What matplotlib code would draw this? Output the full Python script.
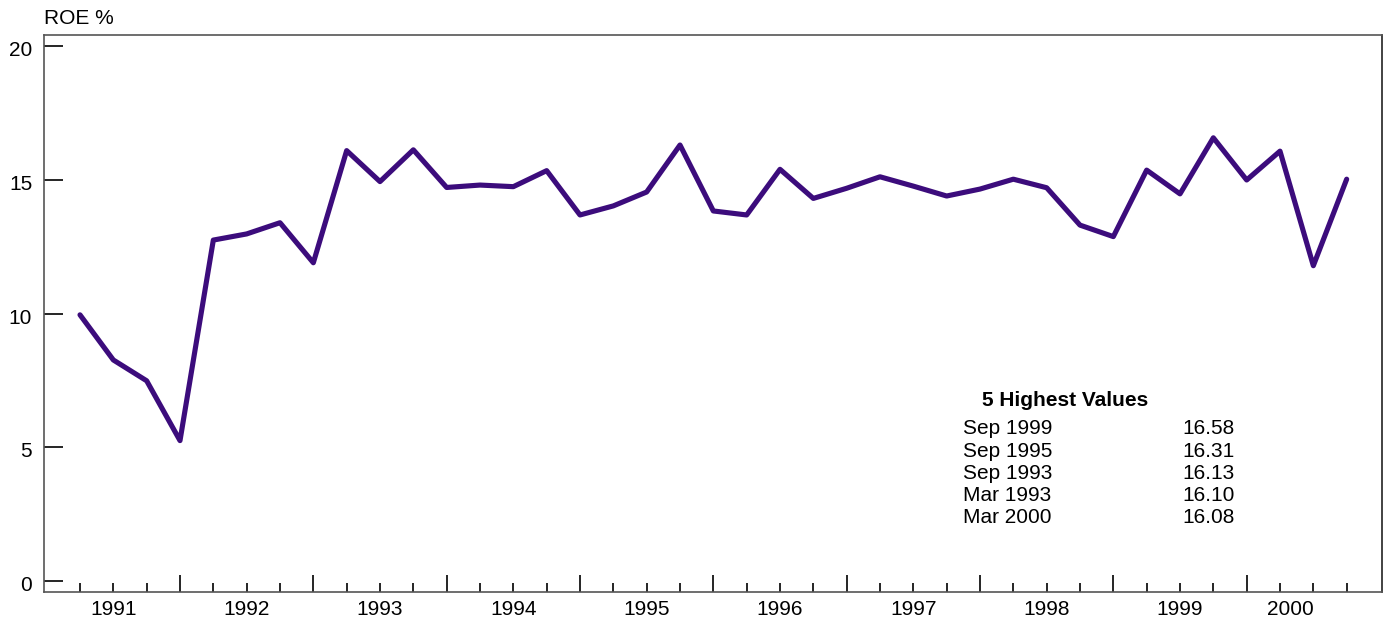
import numpy as np
import matplotlib
matplotlib.use("Agg")
import matplotlib.pyplot as plt
import matplotlib.transforms as mtransforms

plt.rcParams['font.family'] = ['Liberation Sans', 'DejaVu Sans']

# --- Data: quarterly ROE, Mar 1991 .. Sep 2000 ---
MONTHS = ['Mar', 'Jun', 'Sep', 'Dec']
quarters = [f"{MONTHS[k % 4]} {1991 + k // 4}" for k in range(39)]
roe = [9.95, 8.26, 7.48, 5.24,
       12.75, 12.98, 13.40, 11.90,
       16.10, 14.94, 16.13, 14.72,
       14.81, 14.75, 15.35, 13.69,
       14.03, 14.55, 16.31, 13.84,
       13.69, 15.40, 14.31, 14.69,
       15.12, 14.77, 14.40, 14.66,
       15.03, 14.71, 13.31, 12.88,
       15.37, 14.48, 16.58, 15.00,
       16.08, 11.79, 15.03]
years = [str(y) for y in range(1991, 2001)]
year_pos = [1, 5, 9, 13, 17, 21, 25, 29, 33, 36.3]
yticks = [0, 5, 10, 15, 20]

LINE = '#3c0c7c'
AXC = '#555555'
FS = 15

fig = plt.figure(figsize=(13.87, 6.17), dpi=100)
ax = fig.add_axes([44/1387, 25/617, (1382-44)/1387, (592-35)/617])

x = np.arange(len(roe))
ax.plot(x, roe, color=LINE, lw=3.7, solid_joinstyle='round', solid_capstyle='round')

ax.set_xlim(-1.08, 39.06)
ax.set_ylim(-0.43, 20.43)

for s in ax.spines.values():
    s.set_color(AXC)
    s.set_linewidth(1.2)
ax.spines['right'].set_color('#222222')

# y axis: inward ticks
ax.set_yticks(yticks)
ax.set_yticklabels([str(v) for v in yticks])
ax.tick_params(axis='y', direction='in', length=14, width=1.2, color='black',
               pad=8.5, labelsize=FS)
shift = mtransforms.ScaledTranslation(0, -2.5/100, fig.dpi_scale_trans)
for lab in ax.get_yticklabels():
    lab.set_transform(lab.get_transform() + shift)

# x axis: quarterly ticks, taller at Dec
dec = [i for i, q in enumerate(quarters) if q.startswith('Dec')]
other = [i for i, q in enumerate(quarters) if not q.startswith('Dec')]
ax.set_xticks(dec)
ax.set_xticklabels([])
ax.set_xticks(other, minor=True)
ax.tick_params(axis='x', which='major', direction='in', length=12.5, width=1.2, color='black')
ax.tick_params(axis='x', which='minor', direction='in', length=6.5, width=1.2, color='black')
for lab, p in zip(years, year_pos):
    ax.text(p, -0.014, lab, transform=ax.get_xaxis_transform(), ha='center', va='top',
            fontsize=FS)

fig.text(44/1387, 1 - 19/617, 'ROE %', ha='left', va='center', fontsize=FS)

# 5 highest values table
order = sorted(range(len(roe)), key=lambda i: roe[i], reverse=True)[:5]
fig.text(1065/1387, 1 - 401/617, '5 Highest Values', ha='center', va='center',
         fontsize=FS, fontweight='bold')
for r, i in enumerate(order):
    yy = 1 - (429 + r * 22.2) / 617
    fig.text(963/1387, yy, quarters[i], ha='left', va='center', fontsize=FS)
    fig.text(1235/1387, yy, f"{roe[i]:.2f}", ha='right', va='center', fontsize=FS)

fig.savefig('out.png', dpi=100)
